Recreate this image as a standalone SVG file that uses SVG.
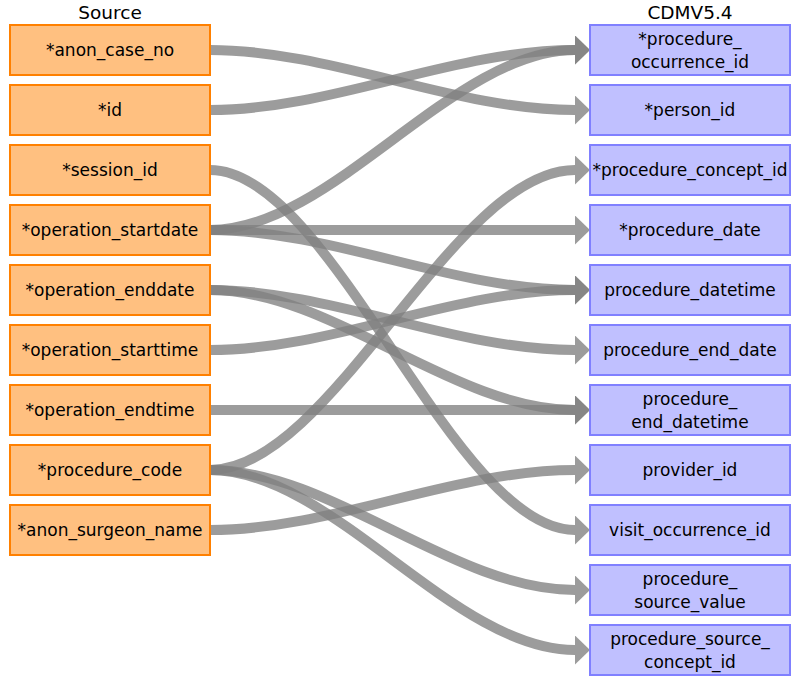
<svg xmlns="http://www.w3.org/2000/svg" width="800" height="685" viewBox="0 0 800 685">
<style>
.src rect{fill:#ffc080;stroke:#ff8000;stroke-width:2}
.tgt rect{fill:#c0c0ff;stroke:#8080ff;stroke-width:2}
text{font-family:"DejaVu Sans","Liberation Sans",sans-serif;font-size:17px;fill:#000;text-anchor:middle}
.title{font-size:18.5px}
#links path{fill:none;stroke:#808080;stroke-opacity:0.78;stroke-width:10;marker-end:url(#ah)}
</style>
<defs>
<marker id="ah" markerUnits="userSpaceOnUse" markerWidth="16" markerHeight="30" refX="0" refY="14.5" orient="auto">
<polygon points="0,0 15,14.5 0,29" fill="#808080" fill-opacity="0.78"/>
</marker>
</defs>
<rect width="800" height="685" fill="#fff"/>
<text class="title" x="110" y="19">Source</text>
<text class="title" x="690" y="19">CDMV5.4</text>
<g id="links">
<path d="M210,50 C332,50 453,110 575,110"/>
<path d="M210,110 C332,110 453,50 575,50"/>
<path d="M210,170 C332,170 453,530 575,530"/>
<path d="M210,230 C332,230 453,50 575,50"/>
<path d="M210,230 C332,230 453,230 575,230"/>
<path d="M210,230 C332,230 453,290 575,290"/>
<path d="M210,290 C332,290 453,350 575,350"/>
<path d="M210,290 C332,290 453,410 575,410"/>
<path d="M210,350 C332,350 453,290 575,290"/>
<path d="M210,410 C332,410 453,410 575,410"/>
<path d="M210,470 C332,470 453,170 575,170"/>
<path d="M210,470 C332,470 453,590 575,590"/>
<path d="M210,470 C332,470 453,650 575,650"/>
<path d="M210,530 C332,530 453,470 575,470"/>
</g>
<g id="s1" class="src"><rect x="10" y="25" width="200" height="50"/><text x="110" y="56">*anon_case_no</text></g>
<g id="s2" class="src"><rect x="10" y="85" width="200" height="50"/><text x="110" y="116">*id</text></g>
<g id="s3" class="src"><rect x="10" y="145" width="200" height="50"/><text x="110" y="176">*session_id</text></g>
<g id="s4" class="src"><rect x="10" y="205" width="200" height="50"/><text x="110" y="236">*operation_startdate</text></g>
<g id="s5" class="src"><rect x="10" y="265" width="200" height="50"/><text x="110" y="296">*operation_enddate</text></g>
<g id="s6" class="src"><rect x="10" y="325" width="200" height="50"/><text x="110" y="356">*operation_starttime</text></g>
<g id="s7" class="src"><rect x="10" y="385" width="200" height="50"/><text x="110" y="416">*operation_endtime</text></g>
<g id="s8" class="src"><rect x="10" y="445" width="200" height="50"/><text x="110" y="476">*procedure_code</text></g>
<g id="s9" class="src"><rect x="10" y="505" width="200" height="50"/><text x="110" y="536">*anon_surgeon_name</text></g>
<g id="t1" class="tgt"><rect x="590" y="25" width="200" height="50"/><text x="690" y="45">*procedure_</text><text x="690" y="68">occurrence_id</text></g>
<g id="t2" class="tgt"><rect x="590" y="85" width="200" height="50"/><text x="690" y="116">*person_id</text></g>
<g id="t3" class="tgt"><rect x="590" y="145" width="200" height="50"/><text x="690" y="176">*procedure_concept_id</text></g>
<g id="t4" class="tgt"><rect x="590" y="205" width="200" height="50"/><text x="690" y="236">*procedure_date</text></g>
<g id="t5" class="tgt"><rect x="590" y="265" width="200" height="50"/><text x="690" y="296">procedure_datetime</text></g>
<g id="t6" class="tgt"><rect x="590" y="325" width="200" height="50"/><text x="690" y="356">procedure_end_date</text></g>
<g id="t7" class="tgt"><rect x="590" y="385" width="200" height="50"/><text x="690" y="405">procedure_</text><text x="690" y="428">end_datetime</text></g>
<g id="t8" class="tgt"><rect x="590" y="445" width="200" height="50"/><text x="690" y="476">provider_id</text></g>
<g id="t9" class="tgt"><rect x="590" y="505" width="200" height="50"/><text x="690" y="536">visit_occurrence_id</text></g>
<g id="t10" class="tgt"><rect x="590" y="565" width="200" height="50"/><text x="690" y="585">procedure_</text><text x="690" y="608">source_value</text></g>
<g id="t11" class="tgt"><rect x="590" y="625" width="200" height="50"/><text x="690" y="645">procedure_source_</text><text x="690" y="668">concept_id</text></g>
</svg>
